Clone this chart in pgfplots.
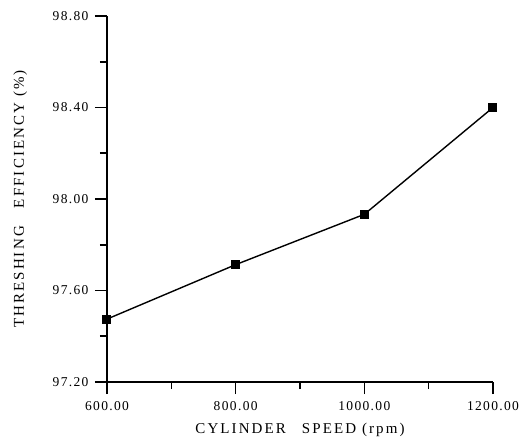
\documentclass[border=0pt]{standalone}
\usepackage{fontspec}
\usepackage{pgfplots}
\pgfplotsset{compat=1.18}
\setmainfont{Liberation Serif}
\newfontfamily\tickfont[LetterSpace=10]{Liberation Serif}
\newfontfamily\labfont[LetterSpace=14]{Liberation Serif}
\begin{document}
\begin{tikzpicture}
\path[use as bounding box] (-107bp,-57bp) rectangle (413bp,382bp);
\begin{axis}[
  at={(0,0)}, anchor=south west,
  scale only axis,
  width=386bp, height=366bp,
  xmin=600, xmax=1200, ymin=97.2, ymax=98.8,
  axis lines*=left,
  axis line style={line width=1.6bp},
  xtick={600,800,1000,1200},
  ytick={97.2,97.6,98.0,98.4,98.8},
  minor x tick num=1, minor y tick num=1,
  tick align=outside,
  major tick length=12bp, minor tick length=7bp,
  every tick/.style={black, line width=1.6bp},
  tick label style={font=\fontsize{13.5bp}{15bp}\tickfont, black},
  /pgf/number format/assume math mode=true,
  xticklabel style={yshift=-4bp, /pgf/number format/.cd, fixed, fixed zerofill, precision=2, 1000 sep={}},
  yticklabel style={xshift=-3bp, /pgf/number format/.cd, fixed, fixed zerofill, precision=2},
  xlabel={CYLINDER\hspace*{16bp}SPEED (rpm)},
  ylabel={THRESHING\hspace*{18bp}EFFICIENCY (\%)},
  every axis x label/.style={at={(axis description cs:0.5,-0.13)}, anchor=center, font=\fontsize{15bp}{17bp}\labfont},
  every axis y label/.style={at={(axis description cs:-0.225,0.5)}, anchor=center, rotate=90, font=\fontsize{15bp}{17bp}\labfont},
  clip=false,
]
\addplot[black, line width=1.4bp, mark=square*, mark size=3.8bp, mark options={solid}] coordinates {
  (600,97.475) (800,97.713) (1000,97.933) (1200,98.40)
};
\end{axis}
\end{tikzpicture}
\end{document}
